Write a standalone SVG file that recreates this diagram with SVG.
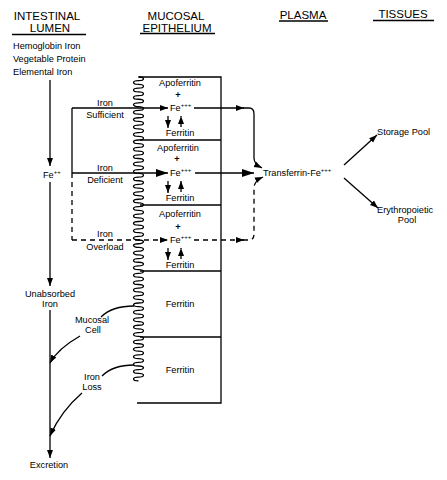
<svg xmlns="http://www.w3.org/2000/svg" width="447" height="480" viewBox="0 0 447 480">
<style>
text{font-family:"Liberation Sans",Arial,sans-serif;font-size:9.2px;fill:#000}
.h{font-size:11.5px}
.c{text-anchor:middle}
.sup{font-size:6px}
.ln{fill:none;stroke:#000;stroke-width:1.3}
.d{stroke-dasharray:5,4}
.th{stroke-width:1.7}
</style>
<defs>
<marker id="a" markerUnits="userSpaceOnUse" markerWidth="10" markerHeight="8" refX="8" refY="3" orient="auto"><path d="M0,0 L8,3 L0,6 z" fill="#000"/></marker>
<marker id="ab" markerUnits="userSpaceOnUse" markerWidth="14" markerHeight="10" refX="12" refY="4" orient="auto"><path d="M0,0 L12,4 L0,8 z" fill="#000"/></marker>
</defs>
<rect width="447" height="480" fill="#fff"/>

<g id="headers">
<text class="h c" x="47" y="20">INTESTINAL</text>
<text class="h c" x="50" y="32">LUMEN</text>
<line class="ln" x1="12" y1="34.5" x2="86" y2="34.5"/>
<text class="h c" x="176" y="20">MUCOSAL</text>
<text class="h c" x="177" y="32">EPITHELIUM</text>
<line class="ln" x1="140" y1="33.5" x2="215" y2="33.5"/>
<text class="h c" x="303" y="18.5">PLASMA</text>
<line class="ln" x1="279" y1="21" x2="328" y2="21"/>
<text class="h c" x="403" y="18">TISSUES</text>
<line class="ln" x1="373" y1="20.5" x2="434" y2="20.5"/>
</g>

<g id="sources">
<text x="13" y="49">Hemoglobin Iron</text>
<text x="13" y="62">Vegetable Protein</text>
<text x="13" y="75">Elemental Iron</text>
</g>

<g id="epithelium">
<path class="ln" d="M138.5,77 H221 V403 H137"/>
<path class="ln" d="M138.5,77 a5 1.8525 0 0 1 0 3.705a5 1.8525 0 0 0 0 3.705a5 1.8525 0 0 1 0 3.705a5 1.8525 0 0 0 0 3.705a5 1.8525 0 0 1 0 3.705a5 1.8525 0 0 0 0 3.705a5 1.8525 0 0 1 0 3.705a5 1.8525 0 0 0 0 3.705a5 1.8525 0 0 1 0 3.705a5 1.8525 0 0 0 0 3.705a5 1.8525 0 0 1 0 3.705a5 1.8525 0 0 0 0 3.705a5 1.8525 0 0 1 0 3.705a5 1.8525 0 0 0 0 3.705a5 1.8525 0 0 1 0 3.705a5 1.8525 0 0 0 0 3.705a5 1.8525 0 0 1 0 3.705a5 1.8525 0 0 0 0 3.705a5 1.8525 0 0 1 0 3.705a5 1.8525 0 0 0 0 3.705a5 1.8525 0 0 1 0 3.705a5 1.8525 0 0 0 0 3.705a5 1.8525 0 0 1 0 3.705a5 1.8525 0 0 0 0 3.705a5 1.8525 0 0 1 0 3.705a5 1.8525 0 0 0 0 3.705a5 1.8525 0 0 1 0 3.705a5 1.8525 0 0 0 0 3.705a5 1.8525 0 0 1 0 3.705a5 1.8525 0 0 0 0 3.705a5 1.8525 0 0 1 0 3.705a5 1.8525 0 0 0 0 3.705a5 1.8525 0 0 1 0 3.705a5 1.8525 0 0 0 0 3.705a5 1.8525 0 0 1 0 3.705a5 1.8525 0 0 0 0 3.705a5 1.8525 0 0 1 0 3.705a5 1.8525 0 0 0 0 3.705a5 1.8525 0 0 1 0 3.705a5 1.8525 0 0 0 0 3.705a5 1.8525 0 0 1 0 3.705a5 1.8525 0 0 0 0 3.705a5 1.8525 0 0 1 0 3.705a5 1.8525 0 0 0 0 3.705a5 1.8525 0 0 1 0 3.705a5 1.8525 0 0 0 0 3.705a5 1.8525 0 0 1 0 3.705a5 1.8525 0 0 0 0 3.705a5 1.8525 0 0 1 0 3.705a5 1.8525 0 0 0 0 3.705a5 1.8525 0 0 1 0 3.705a5 1.8525 0 0 0 0 3.705a5 1.8525 0 0 1 0 3.705a5 1.8525 0 0 0 0 3.705a5 1.8525 0 0 1 0 3.705a5 1.8525 0 0 0 0 3.705a5 1.8525 0 0 1 0 3.705a5 1.8525 0 0 0 0 3.705a5 1.8525 0 0 1 0 3.705a5 1.8525 0 0 0 0 3.705a5 1.8525 0 0 1 0 3.705a5 1.8525 0 0 0 0 3.705a5 1.8525 0 0 1 0 3.705a5 1.8525 0 0 0 0 3.705a5 1.8525 0 0 1 0 3.705a5 1.8525 0 0 0 0 3.705a5 1.8525 0 0 1 0 3.705a5 1.8525 0 0 0 0 3.705a5 1.8525 0 0 1 0 3.705a5 1.8525 0 0 0 0 3.705a5 1.8525 0 0 1 0 3.705a5 1.8525 0 0 0 0 3.705a5 1.8525 0 0 1 0 3.705a5 1.8525 0 0 0 0 3.705a5 1.8525 0 0 1 0 3.705a5 1.8525 0 0 0 0 3.705a5 1.8525 0 0 1 0 3.705a5 1.8525 0 0 0 0 3.705a5 1.8525 0 0 1 0 3.705a5 1.8525 0 0 0 0 3.705a5 1.8525 0 0 1 0 3.705a5 1.8525 0 0 0 0 3.705"/>
<line class="ln" x1="140" y1="140" x2="221" y2="140"/>
<line class="ln" x1="140" y1="205" x2="221" y2="205"/>
<line class="ln" x1="140" y1="271" x2="221" y2="271"/>
<line class="ln" x1="140" y1="337" x2="221" y2="337"/>
</g>

<g id="cell1">
<text class="c" x="180" y="86">Apoferritin</text>
<text class="c" x="178" y="98" style="font-weight:bold">+</text>
<text x="170" y="111">Fe<tspan class="sup" dy="-4">+++</tspan></text>
<text class="c" x="180" y="136">Ferritin</text>
</g>
<g id="cell2">
<text class="c" x="178" y="151">Apoferritin</text>
<text class="c" x="177" y="162" style="font-weight:bold">+</text>
<text x="170" y="176">Fe<tspan class="sup" dy="-4">+++</tspan></text>
<text class="c" x="180" y="201">Ferritin</text>
</g>
<g id="cell3">
<text class="c" x="180" y="217">Apoferritin</text>
<text class="c" x="178" y="230" style="font-weight:bold">+</text>
<text x="170" y="243">Fe<tspan class="sup" dy="-4">+++</tspan></text>
<text class="c" x="180" y="268">Ferritin</text>
</g>
<g id="cell4"><text class="c" x="180" y="307">Ferritin</text></g>
<g id="cell5"><text class="c" x="180" y="373">Ferritin</text></g>

<g id="lumen-labels">
<text x="43" y="178">Fe<tspan class="sup" dy="-4">++</tspan></text>
<text class="c" x="105" y="106">Iron</text>
<text class="c" x="105" y="118">Sufficient</text>
<text class="c" x="105" y="171">Iron</text>
<text class="c" x="105" y="183">Deficient</text>
<text class="c" x="105" y="237">Iron</text>
<text class="c" x="105" y="250">Overload</text>
<text class="c" x="50" y="297">Unabsorbed</text>
<text class="c" x="50" y="307">Iron</text>
<text class="c" x="92" y="323">Mucosal</text>
<text class="c" x="93" y="333">Cell</text>
<text class="c" x="92" y="380">Iron</text>
<text class="c" x="92" y="390">Loss</text>
<text class="c" x="49" y="468">Excretion</text>
</g>

<g id="plasma"><text x="263" y="176">Transferrin-Fe<tspan class="sup" dy="-4">+++</tspan></text></g>
<g id="tissues">
<text x="377" y="135">Storage Pool</text>
<text x="377" y="213">Erythropoietic</text>
<text class="c" x="407" y="223">Pool</text>
</g>

<g id="connectors">
<line class="ln" x1="50" y1="80" x2="50" y2="166" marker-end="url(#a)"/>
<line class="ln" x1="50" y1="182" x2="50" y2="286" marker-end="url(#a)"/>
<line class="ln" x1="50" y1="310" x2="50" y2="458" marker-end="url(#a)"/>
<path class="ln" d="M134,306 C120,306 108,310 101,317"/>
<path class="ln" d="M80,336 C66,344 56,352 50,363" marker-end="url(#a)"/>
<path class="ln" d="M134,365 C118,365 108,370 102,376"/>
<path class="ln" d="M82,393 C68,405 57,420 50,436" marker-end="url(#a)"/>
<line class="ln" x1="72" y1="108" x2="72" y2="173"/>
<line class="ln d" x1="72" y1="173" x2="72" y2="240"/>
<line class="ln" x1="72" y1="108" x2="168" y2="108" marker-end="url(#a)"/>
<line class="ln th" x1="72" y1="173" x2="168" y2="173" marker-end="url(#ab)"/>
<line class="ln d" x1="72" y1="240" x2="168" y2="240" marker-end="url(#a)"/>
<line class="ln" x1="168" y1="116" x2="168" y2="128" marker-end="url(#a)"/>
<line class="ln" x1="181" y1="127" x2="181" y2="116" marker-end="url(#a)" stroke-dasharray="3,2"/>
<line class="ln" x1="168" y1="181" x2="168" y2="193" marker-end="url(#a)"/>
<line class="ln" x1="181" y1="192" x2="181" y2="181" marker-end="url(#a)"/>
<line class="ln" x1="168" y1="248" x2="168" y2="260" marker-end="url(#a)"/>
<line class="ln" x1="181" y1="259" x2="181" y2="248" marker-end="url(#a)" stroke-dasharray="3,2"/>
<line class="ln" x1="194" y1="108" x2="244" y2="108" marker-end="url(#a)"/>
<path class="ln" d="M243,108 H249 Q254,108 254,114 V158 Q254,164 262,168" marker-end="url(#a)"/>
<line class="ln th" x1="195" y1="173" x2="254" y2="173" marker-end="url(#ab)"/>
<line class="ln d" x1="194" y1="240" x2="244" y2="240" marker-end="url(#a)"/>
<path class="ln d" d="M243,240 H249 Q254,240 254,234 V188 Q254,181 263,177" marker-end="url(#a)"/>
<line class="ln" x1="344" y1="165" x2="377" y2="135" marker-end="url(#a)"/>
<line class="ln" x1="344" y1="178" x2="378" y2="208" marker-end="url(#a)"/>
</g>
</svg>
